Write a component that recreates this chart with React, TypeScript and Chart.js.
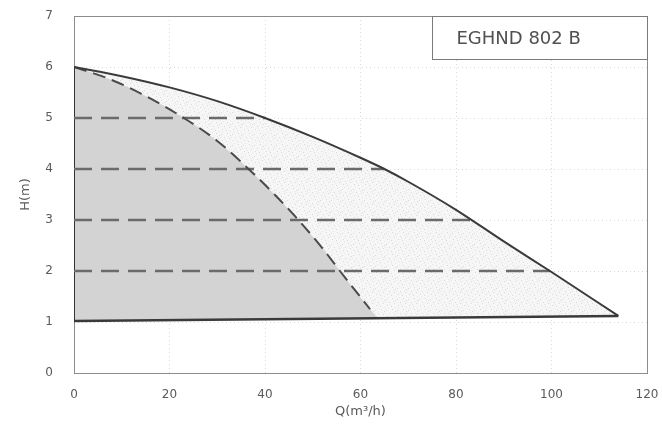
import { useEffect, useRef } from "react";
import { Chart, registerables } from "chart.js";

Chart.register(...registerables);

// Axis ticks
const Q_TICKS = [0, 20, 40, 60, 80, 100, 120];
const H_TICKS = [0, 1, 2, 3, 4, 5, 6, 7];

// Maximum-speed curve (solid)
const MAX_Q = [0, 10, 20, 30, 40, 50, 60, 65, 70, 80, 90, 100, 114];
const MAX_H = [6, 5.82, 5.6, 5.33, 5.0, 4.63, 4.22, 4.0, 3.75, 3.2, 2.58, 1.98, 1.12];

// Minimum-speed curve (dashed)
const MIN_Q = [0, 7, 14, 23, 30, 36, 42, 47, 52, 55.7, 62];
const MIN_H = [6, 5.78, 5.48, 5.0, 4.55, 4.05, 3.5, 3.0, 2.45, 2.0, 1.25];

// Foot of the shaded minimum-speed region
const MIN_FOOT_Q = 63.8;
const MIN_FOOT_H = 1.06;

// Base line of the working range
const BASE_Q = [0, 114];
const BASE_H = [1.02, 1.12];

// Intermediate constant-head lines and where they meet the max curve
const LEVEL_H = [5, 4, 3, 2];
const LEVEL_END_Q = [40, 65, 83.2, 99.7];

// Model label box
const MODEL_LABEL = "EGHND 802 B";
const LABEL_BOX_Q = [75, 120];
const LABEL_BOX_H = [6.15, 7];

const X_TITLE = "Q(m³/h)";
const Y_TITLE = "H(m)";

const pts = (xs: number[], ys: number[]) => xs.map((x, i) => ({ x, y: ys[i] }));

function makeStipple(): CanvasPattern | string {
  const n = 11;
  const c = document.createElement("canvas");
  c.width = n;
  c.height = n;
  const g = c.getContext("2d");
  if (!g) return "#f3f3f3";
  g.fillStyle = "#f6f6f6";
  g.fillRect(0, 0, n, n);
  g.fillStyle = "#d9d9d9";
  const dots = [
    [1, 2],
    [7, 1],
    [4, 5],
    [9, 6],
    [2, 8],
    [6, 9],
    [10, 3],
  ];
  dots.forEach(([x, y]) => g.fillRect(x, y, 1, 1));
  g.fillStyle = "#e8e8e8";
  const soft = [
    [3, 0],
    [8, 4],
    [0, 5],
    [5, 7],
    [10, 10],
  ];
  soft.forEach(([x, y]) => g.fillRect(x, y, 1, 1));
  return g.createPattern(c, "repeat") ?? "#f3f3f3";
}

const framePlugin = {
  id: "plotFrame",
  beforeDatasetsDraw(chart: any) {
    const { ctx, chartArea: a } = chart;
    ctx.save();
    ctx.strokeStyle = "#8c8c8c";
    ctx.lineWidth = 1;
    ctx.strokeRect(Math.round(a.left) + 0.5, Math.round(a.top) + 0.5, Math.round(a.right - a.left), Math.round(a.bottom - a.top));
    ctx.restore();
  },
};

const labelBoxPlugin = {
  id: "modelLabelBox",
  afterDatasetsDraw(chart: any) {
    const { ctx, scales } = chart;
    const x = scales.x;
    const y = scales.y;
    const l = Math.round(x.getPixelForValue(LABEL_BOX_Q[0])) + 0.5;
    const r = Math.round(x.getPixelForValue(LABEL_BOX_Q[1])) + 0.5;
    const t = Math.round(y.getPixelForValue(LABEL_BOX_H[1])) + 0.5;
    const b = Math.round(y.getPixelForValue(LABEL_BOX_H[0])) + 0.5;
    ctx.save();
    ctx.fillStyle = "#ffffff";
    ctx.fillRect(l, t, r - l, b - t);
    ctx.strokeStyle = "#7a7a7a";
    ctx.lineWidth = 1;
    ctx.strokeRect(l, t, r - l, b - t);
    ctx.fillStyle = "#505050";
    ctx.font = '18px "DejaVu Sans"';
    ctx.textBaseline = "middle";
    ctx.textAlign = "left";
    ctx.fillText(MODEL_LABEL, l + 24, (t + b) / 2 + 1);
    ctx.restore();
  },
};

export default function App() {
  const ref = useRef<HTMLCanvasElement>(null);

  useEffect(() => {
    const canvas = ref.current;
    if (!canvas) return;
    const stipple = makeStipple();
    const lineBase = {
      showLine: true,
      pointRadius: 0,
      pointHoverRadius: 0,
      fill: false,
    };

    const levelSets = LEVEL_H.map((h, i) => ({
      ...lineBase,
      label: `H ${h}`,
      data: [
        { x: 0, y: h },
        { x: LEVEL_END_Q[i], y: h },
      ],
      borderColor: "#6b6b6b",
      borderWidth: 2.5,
      borderDash: [18, 9],
    }));

    const chart = new Chart(canvas, {
      type: "scatter",
      data: {
        datasets: [
          {
            ...lineBase,
            label: "max",
            data: pts(MAX_Q, MAX_H),
            borderColor: "#3a3a3a",
            borderWidth: 2,
            cubicInterpolationMode: "monotone",
          },
          {
            ...lineBase,
            label: "min",
            data: pts(MIN_Q, MIN_H),
            borderColor: "#4a4a4a",
            borderWidth: 2,
            borderDash: [13, 7],
            cubicInterpolationMode: "monotone",
          },
          ...levelSets,
          {
            ...lineBase,
            label: "left",
            data: [
              { x: 0, y: BASE_H[0] },
              { x: 0, y: 6 },
            ],
            borderColor: "#333333",
            borderWidth: 2,
          },
          {
            ...lineBase,
            label: "base",
            data: pts(BASE_Q, BASE_H),
            borderColor: "#3a3a3a",
            borderWidth: 2.5,
          },
          {
            ...lineBase,
            label: "min area",
            data: [...pts(MIN_Q, MIN_H), { x: MIN_FOOT_Q, y: MIN_FOOT_H }],
            borderWidth: 0,
            borderColor: "rgba(0,0,0,0)",
            backgroundColor: "#d3d3d3",
            cubicInterpolationMode: "monotone",
            fill: 7,
          },
          {
            ...lineBase,
            label: "max area",
            data: pts(MAX_Q, MAX_H),
            borderWidth: 0,
            borderColor: "rgba(0,0,0,0)",
            backgroundColor: stipple as any,
            cubicInterpolationMode: "monotone",
            fill: 7,
          },
        ],
      } as any,
      options: {
        animation: false,
        responsive: false,
        events: [],
        layout: { padding: { top: 16, right: 15, left: 0, bottom: 0 } },
        plugins: {
          legend: { display: false },
          tooltip: { enabled: false },
        },
        scales: {
          x: {
            type: "linear",
            min: 0,
            max: 120,
            afterFit: (s: any) => {
              s.height = 66;
              s.paddingLeft = 0;
              s.paddingRight = 0;
            },
            afterBuildTicks: (s: any) => {
              s.ticks = Q_TICKS.map((v) => ({ value: v }));
            },
            ticks: {
              padding: 15,
              color: "#5a5a5a",
              font: { family: "DejaVu Sans", size: 12 },
            },
            grid: {
              color: "#d9d9d9",
              lineWidth: 1,
              drawTicks: false,
            },
            border: { display: false, dash: [1, 3] },
            title: {
              display: true,
              text: X_TITLE,
              color: "#5a5a5a",
              font: { family: "DejaVu Sans", size: 13 },
              padding: { top: 0, bottom: 20 },
            },
          },
          y: {
            type: "linear",
            min: 0,
            max: 7,
            afterFit: (s: any) => {
              s.width = 74;
              s.paddingTop = 0;
              s.paddingBottom = 0;
            },
            afterBuildTicks: (s: any) => {
              s.ticks = H_TICKS.map((v) => ({ value: v }));
            },
            ticks: {
              padding: 21,
              color: "#5a5a5a",
              font: { family: "DejaVu Sans", size: 12 },
            },
            grid: {
              color: "#d9d9d9",
              lineWidth: 1,
              drawTicks: false,
            },
            border: { display: false, dash: [1, 3] },
            title: {
              display: true,
              text: Y_TITLE,
              color: "#5a5a5a",
              font: { family: "DejaVu Sans", size: 13 },
              padding: { top: 18, bottom: 0 },
            },
          },
        },
      },
      plugins: [framePlugin, labelBoxPlugin],
    } as any);

    return () => chart.destroy();
  }, []);

  return (
    <div style={{ position: "fixed", left: 0, top: 0, width: 662, height: 439, background: "#ffffff" }}>
      <canvas ref={ref} width={662} height={439} />
    </div>
  );
}
